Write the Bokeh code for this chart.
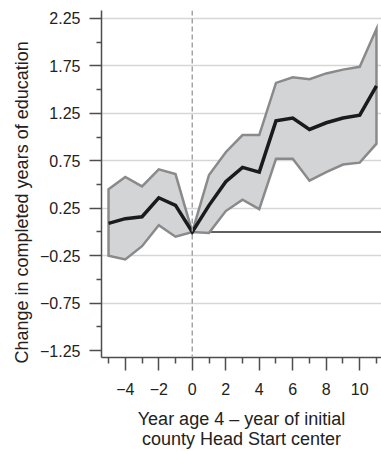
from bokeh.plotting import figure
from bokeh.models import FixedTicker, Span, Title, Range1d
from bokeh.embed import file_html
from bokeh.resources import INLINE

# ---- data ----
years = [-5, -4, -3, -2, -1, 0, 1, 2, 3, 4, 5, 6, 7, 8, 9, 10, 11]
estimate = [0.09, 0.14, 0.16, 0.36, 0.28, 0.00, 0.28, 0.53, 0.68, 0.63, 1.17, 1.20, 1.08, 1.15, 1.20, 1.23, 1.54]
upper_ci = [0.45, 0.58, 0.48, 0.66, 0.61, 0.00, 0.60, 0.84, 1.02, 1.02, 1.57, 1.63, 1.61, 1.67, 1.71, 1.74, 2.14]
lower_ci = [-0.25, -0.29, -0.15, 0.07, -0.05, 0.00, -0.01, 0.22, 0.34, 0.24, 0.77, 0.77, 0.54, 0.63, 0.71, 0.73, 0.93]

y_major = [-1.25, -0.75, -0.25, 0.25, 0.75, 1.25, 1.75, 2.25]
y_minor = [-1.0, -0.5, 0.0, 0.5, 1.0, 1.5, 2.0]
y_grid = [-0.75, -0.25, 0.25, 0.75, 1.25, 1.75, 2.25]
x_major = [-4, -2, 0, 2, 4, 6, 8, 10]
x_minor = [-5, -3, -1, 1, 3, 5, 7, 9, 11]

x_label = "Year age 4 \u2013 year of initial\ncounty Head Start center"
y_label = "Change in completed years of education"

X_MIN, X_MAX = -5.42, 11.30
Y_MIN, Y_MAX = -1.323, 2.333
event_year = 0

FONT = "Liberation Sans"
INK = "#222222"
AXIS = "#4d4d4d"

def fmt(v):
    s = ("%g" % v) if float(v).is_integer() else ("%.2f" % v)
    return s.replace("-", "\u2212")

p = figure(width=381, height=451, output_backend="svg", toolbar_location=None,
           x_range=Range1d(X_MIN, X_MAX), y_range=Range1d(Y_MIN, Y_MAX),
           min_border_left=101, min_border_top=10, min_border_right=0, min_border_bottom=90)
p.outline_line_color = None
p.background_fill_color = "white"
p.border_fill_color = "white"

# grid
p.xgrid.visible = False
p.ygrid.ticker = FixedTicker(ticks=y_grid)
p.ygrid.grid_line_color = "#d6d6d6"
p.ygrid.grid_line_width = 1.5

# reference lines
p.add_layout(Span(location=event_year, dimension="height", line_color="#a3a3a3",
                  line_width=1.5, line_dash="5 3"))
p.segment(x0=[event_year], y0=[0], x1=[X_MAX], y1=[0], line_color="#2b2b2b", line_width=1.5)

# confidence band
band_x = years + years[::-1]
band_y = upper_ci + lower_ci[::-1]
p.patch(band_x, band_y, fill_color="#d3d4d6", line_color="#8a8a8a", line_width=2.5,
        line_join="miter")

# estimate line
p.line(years, estimate, line_color="#1b1b1b", line_width=3.5, line_join="miter")

# axes
for ax in (p.xaxis, p.yaxis):
    ax.axis_line_color = AXIS
    ax.axis_line_width = 1.5
    ax.major_tick_line_color = AXIS
    ax.minor_tick_line_color = AXIS
    ax.major_tick_line_width = 1.5
    ax.minor_tick_line_width = 1.5
    ax.major_tick_in = 0
    ax.minor_tick_in = 0
    ax.major_label_text_font = FONT
    ax.major_label_text_font_size = "16px"
    ax.major_label_text_color = INK

p.yaxis.ticker = FixedTicker(ticks=y_major, minor_ticks=y_minor)
p.yaxis.major_label_overrides = {v: fmt(v) for v in y_major}
p.yaxis.major_tick_out = 12
p.yaxis.minor_tick_out = 5
p.yaxis.major_label_standoff = 9

p.xaxis.ticker = FixedTicker(ticks=x_major, minor_ticks=x_minor)
p.xaxis.major_label_overrides = {v: fmt(v) for v in x_major}
p.xaxis.major_tick_out = 13
p.xaxis.minor_tick_out = 6
p.xaxis.major_label_standoff = 12
p.xaxis.axis_label = x_label
p.xaxis.axis_label_text_font = FONT
p.xaxis.axis_label_text_font_size = "18px"
p.xaxis.axis_label_text_font_style = "normal"
p.xaxis.axis_label_text_color = INK
p.xaxis.axis_label_text_line_height = 1.0
p.xaxis.axis_label_standoff = 11

p.add_layout(Title(text=y_label, align="left", offset=-6, standoff=12,
                   text_font=FONT, text_font_size="18px", text_font_style="normal",
                   text_color=INK), "left")

open("out.html", "w").write(file_html(p, INLINE))
